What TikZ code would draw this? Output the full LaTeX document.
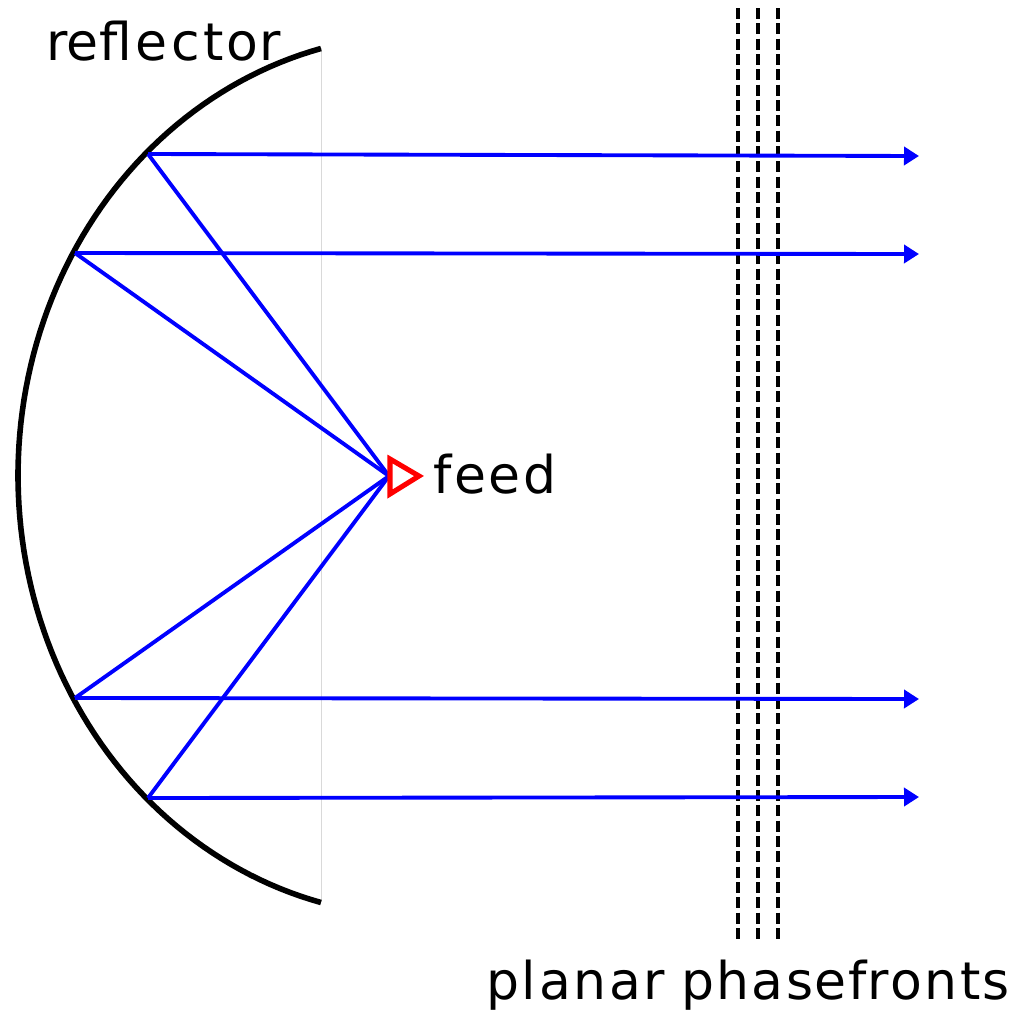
\documentclass[tikz,border=0pt]{standalone}
\usepackage{fontspec}
\setmainfont{DejaVu Sans}
\usetikzlibrary{arrows.meta}
\tikzset{
  px/.style={x=0.75pt,y=-0.75pt},
  ray/.style={draw={rgb,255:red,0;green,0;blue,255},line width=2.9pt},
  beam/.style={ray,-{Triangle[length=11.25pt,width=13.5pt]}},
  front/.style={draw=black,line width=2.6pt,dash pattern=on 8.2pt off 3.3pt},
  label/.style={anchor=base west,inner sep=0pt,font=\fontsize{39pt}{39pt}\selectfont,text=black}
}
\newcommand{\kk}[1]{\kern#1pt\relax}
\begin{document}
\begin{tikzpicture}[px]
\useasboundingbox (0,0) rectangle (1018,1015);
\coordinate (f) at (389,476);
\coordinate (a1) at (148,154); \coordinate (a2) at (75,253);
\coordinate (a3) at (75,698); \coordinate (a4) at (148,798);
\coordinate (b1) at (919,156); \coordinate (b2) at (919,254);
\coordinate (b3) at (919,699); \coordinate (b4) at (919,797);
\draw[black!15,line width=0.75pt] (321,48) -- (321,902);
\foreach \x in {738,758,778} \draw[front] (\x,8) -- (\x,939);
\draw[black,line width=4.2pt] plot[domain=104.26:255.74,samples=100] ({420+402*cos(\x)},{475.5+440.6*sin(\x)});
\foreach \i in {1,2,3,4} {
  \draw[ray] (f) -- (a\i);
  \draw[beam] (a\i) -- (b\i);
}
\draw[draw=red,line width=3.8pt,miter limit=10] (390,459) -- (419,476) -- (390,494) -- cycle;
\node[label] (reflector) at (46,60) {re\kk{1}fl\kk{2}e\kk{3}c\kk{3}t\kk{2}o\kk{1}r};
\node[label] (feed) at (433,493) {f\kk{2}e\kk{2}e\kk{2}d};
\node[label] (fronts) at (486,999) {p\kk{2}l\kk{2}a\kk{2}n\kk{2}a\kk{2}r p\kk{1}h\kk{2}a\kk{2}s\kk{1}e\kk{1.5}f\kk{.5}r\kk{1.5}o\kk{1}n\kk{2.5}t\kk{1.5}s};
\end{tikzpicture}
\end{document}
